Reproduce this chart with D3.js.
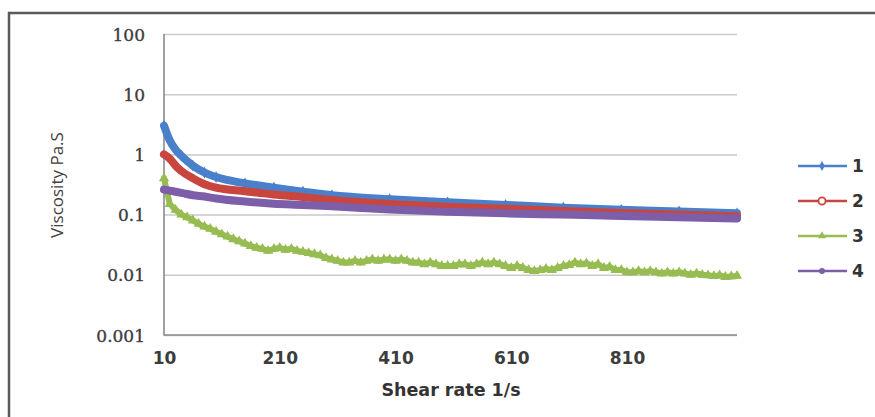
<!DOCTYPE html>
<html>
<head>
<meta charset="utf-8">
<script src="https://cdn.jsdelivr.net/npm/d3@7"></script>
<style>
  body { margin: 0; background: #fff; }
  svg { display: block; }
</style>
</head>
<body>
<svg width="875" height="417"></svg>
<script>
// shear rate (1/s) for the smooth curves and their viscosities (Pa.S)
const rateSmooth = [10, 20, 30, 40, 60, 80, 100, 150, 200, 250, 300, 400, 500, 600, 700, 800, 900, 1000];
const visc1 = [3.0, 1.7, 1.2, 0.95, 0.65, 0.5, 0.42, 0.33, 0.28, 0.24, 0.21, 0.18, 0.16, 0.145, 0.13, 0.12, 0.113, 0.105];
const visc2 = [1.0, 0.85, 0.65, 0.53, 0.4, 0.32, 0.28, 0.245, 0.215, 0.195, 0.175, 0.15, 0.135, 0.125, 0.115, 0.106, 0.1, 0.094];
const visc4 = [0.26, 0.25, 0.24, 0.23, 0.21, 0.2, 0.185, 0.165, 0.152, 0.145, 0.137, 0.122, 0.112, 0.105, 0.1, 0.095, 0.09, 0.086];

// series 3 is noisy, read every 10 1/s
const rate3 = d3.range(10, 1001, 10);
const visc3 = [0.40, 0.15, 0.12, 0.10, 0.09, 0.08, 0.07, 0.063, 0.058, 0.052,
  0.047, 0.043, 0.039, 0.036, 0.033, 0.030, 0.028, 0.027, 0.025, 0.027,
  0.028, 0.026, 0.027, 0.025, 0.024, 0.023, 0.022, 0.021, 0.019, 0.018,
  0.017, 0.016, 0.016, 0.017, 0.016, 0.017, 0.018, 0.017, 0.018, 0.018,
  0.017, 0.018, 0.017, 0.016, 0.016, 0.015, 0.016, 0.015, 0.014, 0.014,
  0.014, 0.015, 0.015, 0.014, 0.015, 0.016, 0.015, 0.016, 0.015, 0.014,
  0.013, 0.014, 0.013, 0.012, 0.0115, 0.012, 0.0125, 0.012, 0.013, 0.014,
  0.0145, 0.016, 0.015, 0.0155, 0.014, 0.015, 0.013, 0.0135, 0.012, 0.012,
  0.011, 0.011, 0.0115, 0.011, 0.0115, 0.011, 0.0105, 0.011, 0.0105, 0.011,
  0.0105, 0.01, 0.0105, 0.01, 0.0098, 0.0095, 0.0098, 0.0092, 0.0094, 0.0096];

const seriesNames = ["1", "2", "3", "4"];
const yTicks = [0.001, 0.01, 0.1, 1, 10, 100];
const yTickLabels = ["0.001", "0.01", "0.1", "1", "10", "100"];
const xTicks = [10, 210, 410, 610, 810];

const svg = d3.select("svg");

// outer frame (only top and left visible)
svg.append("path")
  .attr("d", "M9,417 V13 H875")
  .attr("fill", "none")
  .attr("stroke", "#5a5a5a")
  .attr("stroke-width", 2.5);

const x = d3.scaleLinear().domain([10, 1000]).range([164, 737]);
const y = d3.scaleLog().domain([0.001, 100]).range([335, 34]);

// gridlines
svg.append("g")
  .attr("transform", "translate(164,0)")
  .call(d3.axisLeft(y).tickValues(yTicks).tickSize(-573).tickFormat(""))
  .call((g) => g.select(".domain").remove())
  .call((g) => g.selectAll("line").attr("stroke", "#c9c9c9").attr("stroke-width", 1.5));

// axis lines
svg.append("path")
  .attr("d", "M164,34 V335 H737")
  .attr("fill", "none")
  .attr("stroke", "#8a8a8a")
  .attr("stroke-width", 1.6);

// y tick labels
const yAxis = svg.append("g")
  .attr("transform", "translate(150,0)")
  .call(d3.axisLeft(y).tickValues(yTicks).tickSize(0)
    .tickFormat((d, i) => yTickLabels[i]));
yAxis.select(".domain").remove();
yAxis.selectAll("text")
  .attr("x", -5)
  .attr("dy", "0.36em")
  .attr("fill", "#3c3c3c")
  .attr("stroke", "#3c3c3c")
  .attr("stroke-width", 0.35)
  .style("font-family", "'DejaVu Serif', 'Liberation Serif', serif")
  .style("font-size", "17px");

// x tick labels
const xAxis = svg.append("g")
  .attr("transform", "translate(0,352)")
  .call(d3.axisBottom(x).tickValues(xTicks).tickSize(0).tickFormat(d3.format("d")));
xAxis.select(".domain").remove();
xAxis.selectAll("text")
  .attr("y", 0)
  .attr("dy", "0.71em")
  .attr("fill", "#3c3c3c")
  .style("font-family", "DejaVu Sans")
  .style("font-weight", "bold")
  .style("font-size", "17px");

// axis titles
svg.append("text")
  .attr("x", 451)
  .attr("y", 396)
  .attr("text-anchor", "middle")
  .attr("fill", "#333")
  .style("font-family", "DejaVu Sans")
  .style("font-weight", "bold")
  .style("font-size", "17.5px")
  .text("Shear rate 1/s");

svg.append("text")
  .attr("transform", "translate(63,185) rotate(-90)")
  .attr("text-anchor", "middle")
  .attr("fill", "#404040")
  .style("font-family", "Open Sans")
  .style("font-size", "17px")
  .text("Viscosity Pa.S");

// series
const colors = ["#4a80cb", "#c9463f", "#97bd52", "#7c5ea9"];
const symbols = [d3.symbolDiamond, d3.symbolCircle, d3.symbolTriangle, d3.symbolCircle];

const series = [
  { rate: rateSmooth, visc: visc1, curve: d3.curveMonotoneX, width: 8 },
  { rate: rateSmooth, visc: visc2, curve: d3.curveMonotoneX, width: 8 },
  { rate: rate3, visc: visc3, curve: d3.curveLinear, width: 6 },
  { rate: rateSmooth, visc: visc4, curve: d3.curveMonotoneX, width: 8 },
];

series.forEach((s, i) => {
  const pts = s.rate.map((r, j) => [r, s.visc[j]]);
  const line = d3.line()
    .x((d) => x(d[0]))
    .y((d) => y(d[1]))
    .curve(s.curve);

  svg.append("path")
    .datum(pts)
    .attr("d", line)
    .attr("fill", "none")
    .attr("stroke", colors[i])
    .attr("stroke-width", s.width)
    .attr("stroke-linejoin", "round")
    .attr("stroke-linecap", "round");

  svg.append("g")
    .selectAll("path")
    .data(pts)
    .enter()
    .append("path")
    .attr("transform", (d) => `translate(${x(d[0])},${y(d[1])})`)
    .attr("d", d3.symbol().type(symbols[i]).size(i === 2 ? 45 : 40))
    .attr("fill", colors[i]);
});

// legend
const legend = svg.append("g");
seriesNames.forEach((name, i) => {
  const ly = 166 + i * 35;
  legend.append("line")
    .attr("x1", 798).attr("x2", 847)
    .attr("y1", ly).attr("y2", ly)
    .attr("stroke", colors[i])
    .attr("stroke-width", 2.5);
  legend.append("path")
    .attr("transform", `translate(822,${ly})`)
    .attr("d", d3.symbol().type(symbols[i]).size(i === 1 ? 40 : 28))
    .attr("fill", i === 1 ? "#fff" : colors[i])
    .attr("stroke", colors[i])
    .attr("stroke-width", i === 1 ? 1.8 : 0);
  legend.append("text")
    .attr("x", 852)
    .attr("y", ly)
    .attr("dy", "0.36em")
    .attr("fill", "#333")
    .style("font-family", "DejaVu Sans")
    .style("font-weight", "bold")
    .style("font-size", "17px")
    .text(name);
});
</script>
</body>
</html>
